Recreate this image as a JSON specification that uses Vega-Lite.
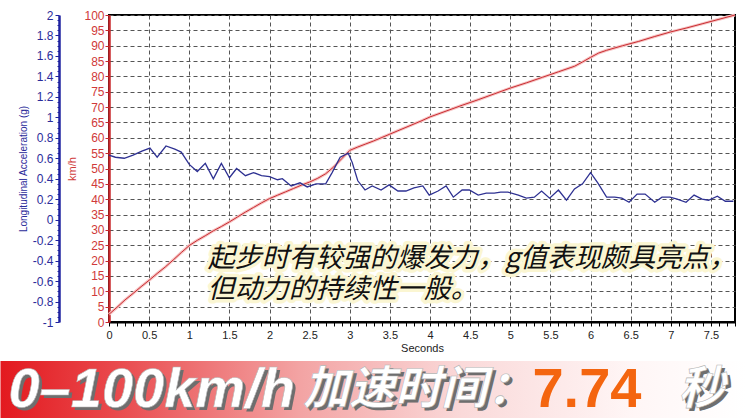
{
  "$schema": "https://vega.github.io/schema/vega-lite/v6.json",
  "background": "white",
  "padding": {"left": 0, "top": 8, "right": 0, "bottom": 0},
  "bounds": "flush",
  "spacing": 39,
  "config": {"font": "Liberation Sans", "view": {"stroke": null}},
  "vconcat": [
    {
      "width": 626,
      "height": 307,
      "view": {"stroke": "#000", "strokeWidth": 2},
      "encoding": {
        "x": {
          "field": "t", "type": "quantitative",
          "scale": {"domain": [0, 7.8], "nice": false, "zero": false},
          "axis": {
            "values": [0,0.1,0.2,0.3,0.4,0.5,0.6,0.7,0.8,0.9,1,1.1,1.2,1.3,1.4,1.5,1.6,1.7,1.8,1.9,2,2.1,2.2,2.3,2.4,2.5,2.6,2.7,2.8,2.9,3,3.1,3.2,3.3,3.4,3.5,3.6,3.7,3.8,3.9,4,4.1,4.2,4.3,4.4,4.5,4.6,4.7,4.8,4.9,5,5.1,5.2,5.3,5.4,5.5,5.6,5.7,5.8,5.9,6,6.1,6.2,6.3,6.4,6.5,6.6,6.7,6.8,6.9,7,7.1,7.2,7.3,7.4,7.5,7.6,7.7,7.8],
            "labelExpr": "abs(datum.value*2 - round(datum.value*2)) < 0.001 ? toString(datum.value) : ''",
            "labelOverlap": false,
            "labelFlush": false,
            "labelFontSize": 11,
            "labelColor": "#222",
            "labelPadding": 3,
            "tickSize": 4,
            "tickColor": "#000",
            "domainColor": "#000",
            "domainWidth": 2,
            "grid": true,
            "gridDash": [4, 3],
            "gridColor": "#555",
            "gridOpacity": {"condition": {"test": "abs(datum.value*2 - round(datum.value*2)) < 0.001 && datum.value > 0", "value": 1}, "value": 0},
            "title": "Seconds",
            "titleFontSize": 11,
            "titleFontWeight": "normal",
            "titleColor": "#222",
            "titlePadding": 2
          }
        }
      },
      "layer": [
        {
          "encoding": {
            "y": {
              "field": "kmh", "type": "quantitative",
              "scale": {"domain": [0, 100], "nice": false, "zero": false},
              "axis": {
                "orient": "left",
                "values": [0,5,10,15,20,25,30,35,40,45,50,55,60,65,70,75,80,85,90,95,100],
                "labelFontSize": 12,
                "labelColor": "#d03a3a",
                "labelPadding": 1,
                "tickSize": 4,
                "tickColor": "#c8282d",
                "domainColor": "#c8282d",
                "domainWidth": 2.5,
                "grid": true,
                "gridDash": [4, 3],
                "gridColor": "#555",
                "title": "km/h",
                "titleColor": "#d03a3a",
                "titleFontSize": 11,
                "titleFontWeight": "normal",
                "titlePadding": 6
              }
            }
          },
          "layer": [
            {
              "data": {"name": "speed"},
              "mark": {"type": "line", "stroke": "#f6c2c2", "strokeWidth": 3, "interpolate": "linear"}
            },
            {
              "data": {"name": "speed"},
              "mark": {"type": "line", "stroke": "#c92c31", "strokeWidth": 1, "interpolate": "linear"}
            },
            {
              "data": {"name": "note"},
              "mark": {"type": "text", "align": "left", "baseline": "middle", "font": "Noto Sans CJK SC", "fontSize": 27, "fontStyle": "italic", "fill": "#fbf6d2", "stroke": "#fbf6d2", "strokeWidth": 7, "strokeJoin": "round"},
              "encoding": {"text": {"field": "line"}}
            },
            {
              "data": {"name": "note"},
              "mark": {"type": "text", "align": "left", "baseline": "middle", "font": "Noto Sans CJK SC", "fontSize": 27, "fontStyle": "italic", "fill": "#111"},
              "encoding": {"text": {"field": "line"}}
            }
          ]
        },
        {
          "data": {"name": "accel"},
          "mark": {"type": "line", "stroke": "#2e3192", "strokeWidth": 1.3, "interpolate": "linear"},
          "encoding": {
            "y": {
              "field": "g", "type": "quantitative",
              "scale": {"domain": [-1, 2], "nice": false, "zero": false},
              "axis": {
                "orient": "left",
                "offset": 50,
                "values": [-1,-0.95,-0.9,-0.85,-0.8,-0.75,-0.7,-0.65,-0.6,-0.55,-0.5,-0.45,-0.4,-0.35,-0.3,-0.25,-0.2,-0.15,-0.1,-0.05,0,0.05,0.1,0.15,0.2,0.25,0.3,0.35,0.4,0.45,0.5,0.55,0.6,0.65,0.7,0.75,0.8,0.85,0.9,0.95,1,1.05,1.1,1.15,1.2,1.25,1.3,1.35,1.4,1.45,1.5,1.55,1.6,1.65,1.7,1.75,1.8,1.85,1.9,1.95,2],
                "labelExpr": "abs(datum.value*5 - round(datum.value*5)) < 0.001 ? toString(datum.value) : ''",
                "labelOverlap": false,
                "labelFontSize": 12,
                "labelColor": "#2b2b9a",
                "labelPadding": 2,
                "tickSize": {"condition": {"test": "abs(datum.value*5 - round(datum.value*5)) < 0.001", "value": 4}, "value": 2},
                "tickColor": "#1f23a0",
                "domainColor": "#1f23a0",
                "domainWidth": 2.5,
                "grid": false,
                "title": "Longitudinal Acceleration (g)",
                "titleColor": "#2b2b9a",
                "titleFontSize": 10,
                "titleFontWeight": "normal",
                "titlePadding": 4
              }
            }
          }
        }
      ],
      "resolve": {"scale": {"y": "independent"}, "axis": {"y": "independent"}}
    },
    {
      "width": 626,
      "height": 57,
      "data": {"name": "banner"},
      "encoding": {
        "x": {"field": "pos", "type": "quantitative", "scale": {"domain": [0, 100], "range": [-108.5, 636.5], "nice": false, "zero": false}, "axis": null},
        "y": {"field": "level", "type": "quantitative", "scale": {"domain": [0, 1], "nice": false, "zero": false}, "axis": null}
      },
      "layer": [
        {
          "data": {"name": "band"},
          "mark": {"type": "rect", "clip": false, "fill": {"gradient": "linear", "x1": 0, "y1": 0, "x2": 1, "y2": 0, "stops": [{"offset": 0, "color": "#e3191f"}, {"offset": 0.15, "color": "#e9484b"}, {"offset": 0.4, "color": "#f3a3a3"}, {"offset": 0.62, "color": "#fad9d9"}, {"offset": 0.85, "color": "#fff6f6"}, {"offset": 1, "color": "#ffffff"}]}},
          "encoding": {"x2": {"field": "pos2"}, "y2": {"field": "level2"}}
        },
        {
          "transform": [{"filter": "datum.kind == 'latin'"}],
          "mark": {"type": "text", "align": "left", "baseline": "middle", "font": "Liberation Sans", "fontSize": 56, "fontWeight": "bold", "fontStyle": "italic", "fill": "#6e6e6e", "dx": 3, "dy": 3},
          "encoding": {"text": {"field": "part"}}
        },
        {
          "transform": [{"filter": "datum.kind == 'latin'"}],
          "mark": {"type": "text", "align": "left", "baseline": "middle", "font": "Liberation Sans", "fontSize": 56, "fontWeight": "bold", "fontStyle": "italic", "fill": "#ffffff", "stroke": "#b5b5b5", "strokeWidth": 0.6},
          "encoding": {"text": {"field": "part"}}
        },
        {
          "transform": [{"filter": "datum.kind == 'cjk'"}],
          "mark": {"type": "text", "align": "left", "baseline": "middle", "font": "Noto Sans CJK SC", "fontSize": 46, "fontWeight": "bold", "fontStyle": "italic", "fill": "#6e6e6e", "dx": 3, "dy": 3},
          "encoding": {"text": {"field": "part"}}
        },
        {
          "transform": [{"filter": "datum.kind == 'cjk'"}],
          "mark": {"type": "text", "align": "left", "baseline": "middle", "font": "Noto Sans CJK SC", "fontSize": 46, "fontWeight": "bold", "fontStyle": "italic", "fill": "#ffffff", "stroke": "#b5b5b5", "strokeWidth": 0.6},
          "encoding": {"text": {"field": "part"}}
        },
        {
          "transform": [{"filter": "datum.kind == 'value'"}],
          "mark": {"type": "text", "align": "left", "baseline": "middle", "font": "Liberation Sans", "fontSize": 56, "fontWeight": "bold", "fill": "#f4650f"},
          "encoding": {"text": {"field": "part"}}
        }
      ]
    }
  ],
  "datasets": {
    "speed": [
      {"t": 0, "kmh": 2.5}, {"t": 0.1, "kmh": 4.8}, {"t": 0.2, "kmh": 7.2}, {"t": 0.3, "kmh": 9.3}, {"t": 0.4, "kmh": 11.5},
      {"t": 0.5, "kmh": 13.6}, {"t": 0.6, "kmh": 15.8}, {"t": 0.7, "kmh": 17.9}, {"t": 0.8, "kmh": 20.2}, {"t": 0.9, "kmh": 22.6},
      {"t": 1.0, "kmh": 24.9}, {"t": 1.1, "kmh": 26.6}, {"t": 1.2, "kmh": 28.1}, {"t": 1.3, "kmh": 29.7}, {"t": 1.4, "kmh": 31.1},
      {"t": 1.5, "kmh": 32.6}, {"t": 1.6, "kmh": 34.2}, {"t": 1.7, "kmh": 35.8}, {"t": 1.8, "kmh": 37.3}, {"t": 1.9, "kmh": 38.8},
      {"t": 2.0, "kmh": 40.2}, {"t": 2.1, "kmh": 41.3}, {"t": 2.2, "kmh": 42.4}, {"t": 2.3, "kmh": 43.5}, {"t": 2.4, "kmh": 44.6},
      {"t": 2.5, "kmh": 45.6}, {"t": 2.6, "kmh": 46.8}, {"t": 2.7, "kmh": 48.3}, {"t": 2.8, "kmh": 50.5}, {"t": 2.9, "kmh": 53.2},
      {"t": 3.0, "kmh": 55.9}, {"t": 3.1, "kmh": 57.0}, {"t": 3.2, "kmh": 58.0}, {"t": 3.3, "kmh": 59.0}, {"t": 3.4, "kmh": 60.1},
      {"t": 3.5, "kmh": 61.2}, {"t": 3.6, "kmh": 62.3}, {"t": 3.7, "kmh": 63.4}, {"t": 3.8, "kmh": 64.5}, {"t": 3.9, "kmh": 65.6},
      {"t": 4.0, "kmh": 66.8}, {"t": 4.2, "kmh": 68.7}, {"t": 4.4, "kmh": 70.6}, {"t": 4.6, "kmh": 72.4}, {"t": 4.8, "kmh": 74.3},
      {"t": 5.0, "kmh": 76.2}, {"t": 5.2, "kmh": 77.9}, {"t": 5.4, "kmh": 79.7}, {"t": 5.6, "kmh": 81.5}, {"t": 5.8, "kmh": 83.3},
      {"t": 5.9, "kmh": 84.7}, {"t": 6.0, "kmh": 86.2}, {"t": 6.1, "kmh": 87.6}, {"t": 6.2, "kmh": 88.5}, {"t": 6.4, "kmh": 90.0},
      {"t": 6.6, "kmh": 91.4}, {"t": 6.8, "kmh": 93.0}, {"t": 7.0, "kmh": 94.5}, {"t": 7.2, "kmh": 95.8}, {"t": 7.4, "kmh": 97.2},
      {"t": 7.6, "kmh": 98.6}, {"t": 7.8, "kmh": 100}
    ],
    "accel": [
      {"t": 0, "g": 0.63}, {"t": 0.08, "g": 0.61}, {"t": 0.19, "g": 0.6}, {"t": 0.3, "g": 0.63}, {"t": 0.41, "g": 0.67},
      {"t": 0.51, "g": 0.7}, {"t": 0.6, "g": 0.61}, {"t": 0.71, "g": 0.72}, {"t": 0.82, "g": 0.69}, {"t": 0.9, "g": 0.66},
      {"t": 1.0, "g": 0.54}, {"t": 1.1, "g": 0.47}, {"t": 1.2, "g": 0.55}, {"t": 1.3, "g": 0.4}, {"t": 1.4, "g": 0.55},
      {"t": 1.5, "g": 0.41}, {"t": 1.59, "g": 0.5}, {"t": 1.7, "g": 0.43}, {"t": 1.8, "g": 0.46}, {"t": 1.9, "g": 0.43},
      {"t": 2.0, "g": 0.42}, {"t": 2.1, "g": 0.39}, {"t": 2.16, "g": 0.4}, {"t": 2.27, "g": 0.33}, {"t": 2.38, "g": 0.36},
      {"t": 2.47, "g": 0.32}, {"t": 2.58, "g": 0.35}, {"t": 2.7, "g": 0.35}, {"t": 2.78, "g": 0.46}, {"t": 2.88, "g": 0.61},
      {"t": 2.98, "g": 0.65}, {"t": 3.03, "g": 0.56}, {"t": 3.1, "g": 0.38}, {"t": 3.19, "g": 0.29}, {"t": 3.28, "g": 0.33},
      {"t": 3.39, "g": 0.29}, {"t": 3.49, "g": 0.34}, {"t": 3.6, "g": 0.28}, {"t": 3.7, "g": 0.28}, {"t": 3.8, "g": 0.31},
      {"t": 3.91, "g": 0.33}, {"t": 3.99, "g": 0.24}, {"t": 4.1, "g": 0.28}, {"t": 4.2, "g": 0.33}, {"t": 4.29, "g": 0.22},
      {"t": 4.4, "g": 0.29}, {"t": 4.49, "g": 0.29}, {"t": 4.6, "g": 0.24}, {"t": 4.7, "g": 0.26}, {"t": 4.8, "g": 0.26},
      {"t": 4.88, "g": 0.27}, {"t": 4.97, "g": 0.27}, {"t": 5.1, "g": 0.24}, {"t": 5.2, "g": 0.21}, {"t": 5.3, "g": 0.22},
      {"t": 5.39, "g": 0.28}, {"t": 5.49, "g": 0.21}, {"t": 5.6, "g": 0.29}, {"t": 5.7, "g": 0.19}, {"t": 5.8, "g": 0.3},
      {"t": 5.9, "g": 0.35}, {"t": 6.0, "g": 0.46}, {"t": 6.09, "g": 0.36}, {"t": 6.2, "g": 0.22}, {"t": 6.3, "g": 0.22},
      {"t": 6.39, "g": 0.21}, {"t": 6.48, "g": 0.17}, {"t": 6.58, "g": 0.25}, {"t": 6.68, "g": 0.25}, {"t": 6.8, "g": 0.17},
      {"t": 6.89, "g": 0.22}, {"t": 6.99, "g": 0.22}, {"t": 7.08, "g": 0.2}, {"t": 7.19, "g": 0.17}, {"t": 7.29, "g": 0.24},
      {"t": 7.39, "g": 0.2}, {"t": 7.47, "g": 0.19}, {"t": 7.58, "g": 0.23}, {"t": 7.68, "g": 0.18}, {"t": 7.78, "g": 0.18}
    ],
    "note": [
      {"t": 1.23, "kmh": 20.5, "line": "起步时有较强的爆发力，g值表现颇具亮点，"},
      {"t": 1.23, "kmh": 10.4, "line": "但动力的持续性一般。"}
    ],
    "band": [
      {"pos": 0, "pos2": 100, "level": 0, "level2": 1}
    ],
    "banner": [
      {"part": "0–100km/h", "pos": 1.07, "level": 0.5, "kind": "latin"},
      {"part": "加速时间：", "pos": 40.6, "level": 0.5, "kind": "cjk"},
      {"part": "7.74", "pos": 71.4, "level": 0.5, "kind": "value"},
      {"part": "秒", "pos": 91.0, "level": 0.5, "kind": "cjk"}
    ]
  }
}
